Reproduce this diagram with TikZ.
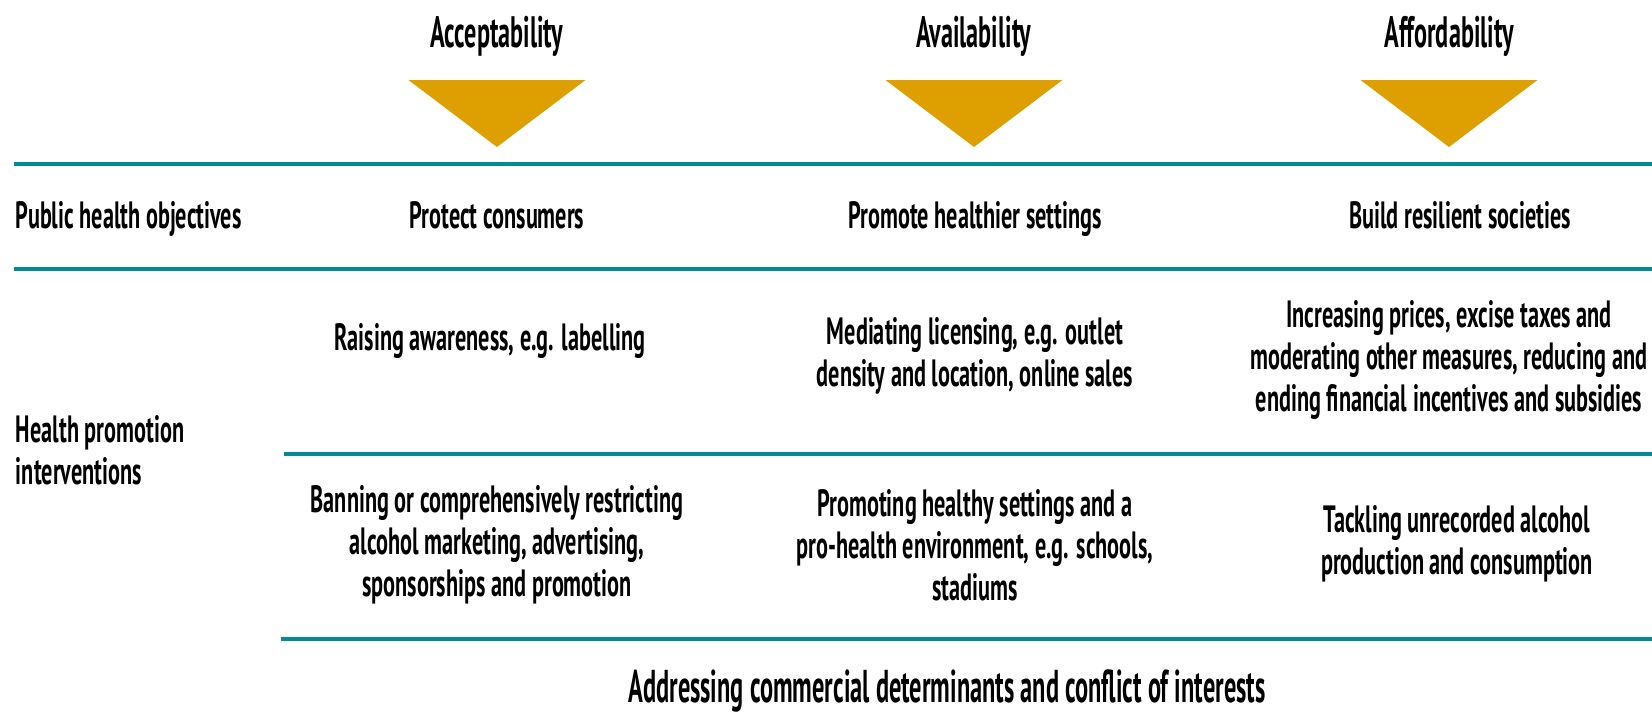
\documentclass[tikz,border=0pt]{standalone}
\usepackage{fontspec}
\setmainfont{PT Sans}[FakeStretch=0.55]
\newfontfamily\cellfont{PT Sans}[FakeStretch=0.585]
\newfontfamily\footfont{PT Sans}[FakeStretch=0.53]
\usepackage{tikz}

\definecolor{ruleteal}{RGB}{0,140,150}
\definecolor{wedgegold}{RGB}{221,160,0}

\begin{document}
\begin{tikzpicture}[x=1pt, y=-1pt, line width=4pt,
  head/.style={font=\bfseries\fontsize{44}{48}\selectfont, inner sep=0pt, anchor=base},
  cell/.style={font=\cellfont\bfseries\fontsize{38}{42}\selectfont, inner sep=0pt, align=center},
  rowlabel/.style={cell, align=left},
  foot/.style={font=\footfont\bfseries\fontsize{46}{50}\selectfont, inner sep=0pt, anchor=base}]

\useasboundingbox (0,0) rectangle (1652,712);

% draw column headings
\node[head] (accept) at (497, 47) {Acceptability};
\node[head] (avail)  at (974, 47) {Availability};
\node[head] (afford) at (1449, 47) {Affordability};

% draw gold wedges under the headings
\foreach \x in {497, 974, 1449}
  \fill[wedgegold] (\x-88.5, 80) -- (\x+88.5, 80) -- (\x, 147) -- cycle;

% draw rules
\draw[ruleteal] (14, 164) -- (1652, 164);
\draw[ruleteal] (14, 269) -- (1652, 269);
\draw[ruleteal] (284, 454) -- (1652, 454);
\draw[ruleteal] (281, 639) -- (1652, 639);

% draw objectives row
\node[cell, anchor=base west] (objlabel) at (14, 228) {Public health objectives};
\node[cell, anchor=base] (protect) at (497, 228) {Protect consumers};
\node[cell, anchor=base] (promote) at (975, 228) {Promote healthier\ settings};
\node[cell, anchor=base] (build)   at (1460, 228) {Build resilient\ societies};

% draw interventions rows
\node[rowlabel, anchor=west] (intlabel) at (14, 450) {Health promotion\\interventions};

\node[cell, anchor=base] (raising) at (490, 350) {Raising awareness,\ e.g. labelling};
\node[cell] (mediating) at (975, 356) {Mediating licensing, e.g. outlet\\density and location, online sales};
\node[cell] (prices) at (1449, 360) {Increasing prices, excise taxes and\\moderating other measures, reducing and\\ending financial incentives and subsidies};

\node[cell] (banning) at (497, 545) {Banning or comprehensively restricting\\alcohol marketing, advertising,\\sponsorships and promotion};
\node[cell] (settings) at (975, 545) {Promoting healthy settings and a\\pro-health environment, e.g. schools,\\stadiums};
\node[cell] (unrecorded) at (1457, 544) {Tackling unrecorded alcohol\\production and consumption};

% draw closing line
\node[foot] (conflict) at (947, 702) {Addressing commercial determinants and conflict of interests};

\end{tikzpicture}
\end{document}
